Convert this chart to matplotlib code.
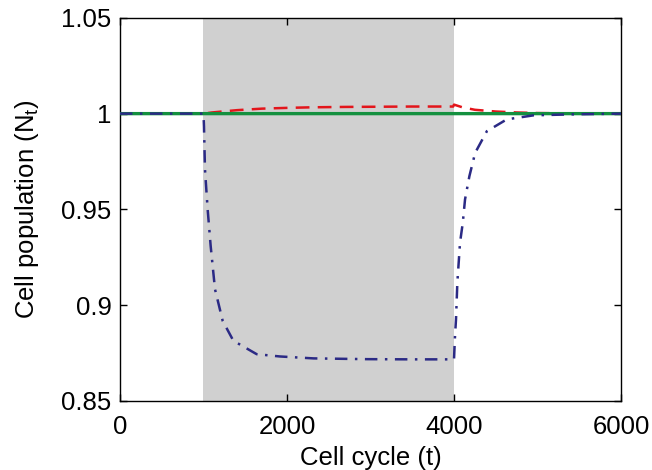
import matplotlib
matplotlib.use("Agg")
import matplotlib.pyplot as plt

plt.rcParams["font.family"] = ["Liberation Sans", "DejaVu Sans"]
plt.rcParams["mathtext.fontset"] = "custom"
plt.rcParams["mathtext.rm"] = "Liberation Sans"

# shaded interval (cell cycles)
shade_start = 1000
shade_end = 4000

# blue dash-dot series
t_blue = [0, 1000, 1006, 1018, 1050, 1086, 1138, 1230, 1358, 1637, 1917, 2317,
          2956, 3500, 3995, 4000, 4012, 4024, 4040, 4072, 4105, 4132, 4184,
          4253, 4393, 4632, 4952, 5392, 6000]
n_blue = [1.0, 1.0, 0.9934, 0.9708, 0.95, 0.9309, 0.9083, 0.8918, 0.8814,
          0.8744, 0.8732, 0.8722, 0.8718, 0.8717, 0.8717, 0.8717, 0.884,
          0.8927, 0.9118, 0.9326, 0.943, 0.9552, 0.9673, 0.9795, 0.9908,
          0.997, 0.9991, 0.9996, 1.0]

# red dashed series
t_red = [0, 1000, 1100, 1200, 1400, 1700, 2000, 2300, 2700, 3100, 3500, 3990,
         4000, 4100, 4250, 4500, 4750, 5000, 5500, 6000]
n_red = [1.0, 1.0, 1.0006, 1.001, 1.0018, 1.0026, 1.003, 1.0033, 1.0035,
         1.0036, 1.0037, 1.0037, 1.0047, 1.0033, 1.002, 1.0011, 1.0006,
         1.0003, 1.0001, 1.0]

# green solid series
t_green = [0, 6000]
n_green = [1.0, 1.0]

fig = plt.figure(figsize=(6.52, 4.70), dpi=100)
ax = fig.add_axes([0.184, 0.147, 0.7685, 0.815])

ax.axvspan(shade_start, shade_end, color="#d0d0d0", lw=0, zorder=0)

ax.plot(t_red, n_red, color="#e3151b", lw=1.8, dashes=(5.5, 3.3), zorder=2,
        snap=False)
ax.plot(t_green, n_green, color="#14903f", lw=2.4, zorder=3, snap=False)
ax.plot(t_blue, n_blue, color="#2b2a85", lw=1.8,
        dashes=(5, 3, 1, 3), zorder=4, snap=False)

ax.set_xlim(0, 6000)
ax.set_ylim(0.85, 1.05)
ax.set_xticks([0, 2000, 4000, 6000])
ax.set_yticks([0.85, 0.9, 0.95, 1.0, 1.05])
ax.set_yticklabels(["0.85", "0.9", "0.95", "1", "1.05"])

ax.tick_params(direction="in", length=5, width=1, top=True, right=True,
               labelsize=18.5)
ax.tick_params(axis="x", pad=10)
ax.tick_params(axis="y", pad=6)
for s in ax.spines.values():
    s.set_linewidth(1.0)

ax.set_xlabel("Cell cycle (t)", fontsize=18.5, labelpad=5)
ax.set_ylabel(r"Cell population (N$_\mathregular{t}$)", fontsize=18.5,
              labelpad=15)

fig.savefig("out.png", dpi=100)
